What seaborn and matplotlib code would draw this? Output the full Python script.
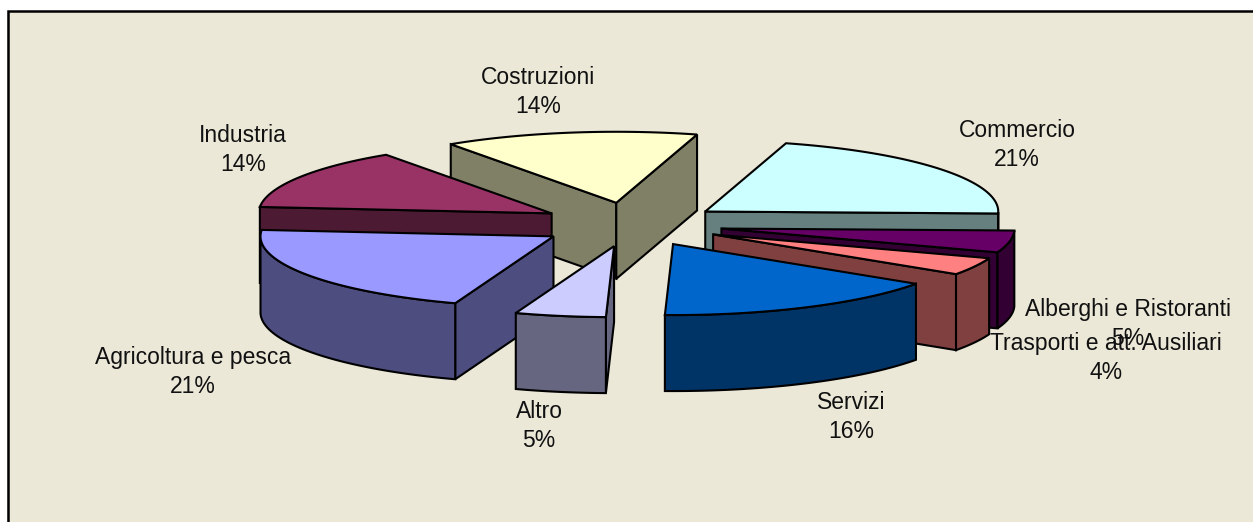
import numpy as np
import matplotlib
matplotlib.use("Agg")
import matplotlib.pyplot as plt
import seaborn as sns

# -----------------------------
# Data
# -----------------------------
categories = ["Commercio", "Alberghi e Ristoranti", "Trasporti e att. Ausiliari", "Servizi",
              "Altro", "Agricoltura e pesca", "Industria", "Costruzioni"]
values = [21, 5, 4, 16, 5, 21, 14, 14]
top_colors = ["#CCFFFF", "#660066", "#FF8080", "#0066CC", "#CCCCFF", "#9999FF", "#993366", "#FFFFCC"]
side_colors = ["#668080", "#330033", "#804040", "#003366", "#666680", "#4D4D80", "#4D1A33", "#808066"]
label_x = [1017, 1128, 1106, 851, 539, 193, 243, 538]
label_y = [145, 324, 358, 417, 426, 372, 150, 92]

sns.set_theme(style="white")
plt.rcParams["font.family"] = ["Liberation Sans", "DejaVu Sans"]
top_palette = sns.color_palette(top_colors)
side_palette = sns.color_palette(side_colors)

# -----------------------------
# Pie geometry, in pixels
# -----------------------------
cx, cy = 631, 224.5
rx, ry = 293, 71
explode_x, explode_y = 92, 22
depth = 76
start_angle = 74
line_w = 1.5

fig, ax = plt.subplots(figsize=(12.53, 5.22), dpi=100)
fig.patch.set_facecolor("white")
ax.set_position([0, 0, 1, 1])
ax.set_xlim(0, 1253)
ax.set_ylim(522, 0)
ax.axis("off")

# background panel, only top and left border show
ax.fill([7, 1253, 1253, 7], [11, 11, 522, 522], color="#EBE8D8", lw=0, zorder=0)
ax.plot([7.5, 7.5, 1253], [522, 11, 11], color="black", lw=line_w + 0.3, zorder=1,
        solid_joinstyle="miter")


def rim(apex, angles):
    rad = np.radians(angles)
    return apex[0] + rx * np.cos(rad), apex[1] - ry * np.sin(rad)


def face(xs, ys, color, z):
    ax.fill(xs, ys, facecolor=color, edgecolor="black", lw=line_w, joinstyle="miter", zorder=z)


# clockwise from start_angle
sweep = np.array(values) / sum(values) * 360
ends = start_angle - np.cumsum(sweep)
starts = ends + sweep
mids = (starts + ends) / 2

# back slices first
order = np.argsort(-np.sin(np.radians(mids)))

for z, i in enumerate(order):
    z0 = 2 + z * 3
    m = np.radians(mids[i])
    apex = (cx + explode_x * np.cos(m), cy - explode_y * np.sin(m))
    a0, a1 = starts[i], ends[i]

    # cut faces that look at the viewer
    if np.cos(np.radians(a0)) < 0:
        px, py = rim(apex, a0)
        face([apex[0], px, px, apex[0]], [apex[1], py, py + depth, apex[1] + depth], side_palette[i], z0)
    if -np.cos(np.radians(a1)) < 0:
        px, py = rim(apex, a1)
        face([apex[0], px, px, apex[0]], [apex[1], py, py + depth, apex[1] + depth], side_palette[i], z0)

    # outer wall, front half of the rim only
    angs = np.linspace(a0, a1, 80)
    front = angs[np.sin(np.radians(angs)) <= 0]
    if len(front) > 1:
        wx, wy = rim(apex, front)
        face(np.r_[wx, wx[::-1]], np.r_[wy, wy[::-1] + depth], side_palette[i], z0 + 1)

    # top
    tx, ty = rim(apex, angs)
    face(np.r_[apex[0], tx], np.r_[apex[1], ty], top_palette[i], z0 + 2)

# -----------------------------
# Labels
# -----------------------------
for name, val, lx, ly in zip(categories, values, label_x, label_y):
    ax.text(lx, ly, f"{name}\n{val}%", ha="center", va="center", fontsize=16.5,
            color="#111111", linespacing=1.36, zorder=50)

plt.savefig("out.png", dpi=100)
